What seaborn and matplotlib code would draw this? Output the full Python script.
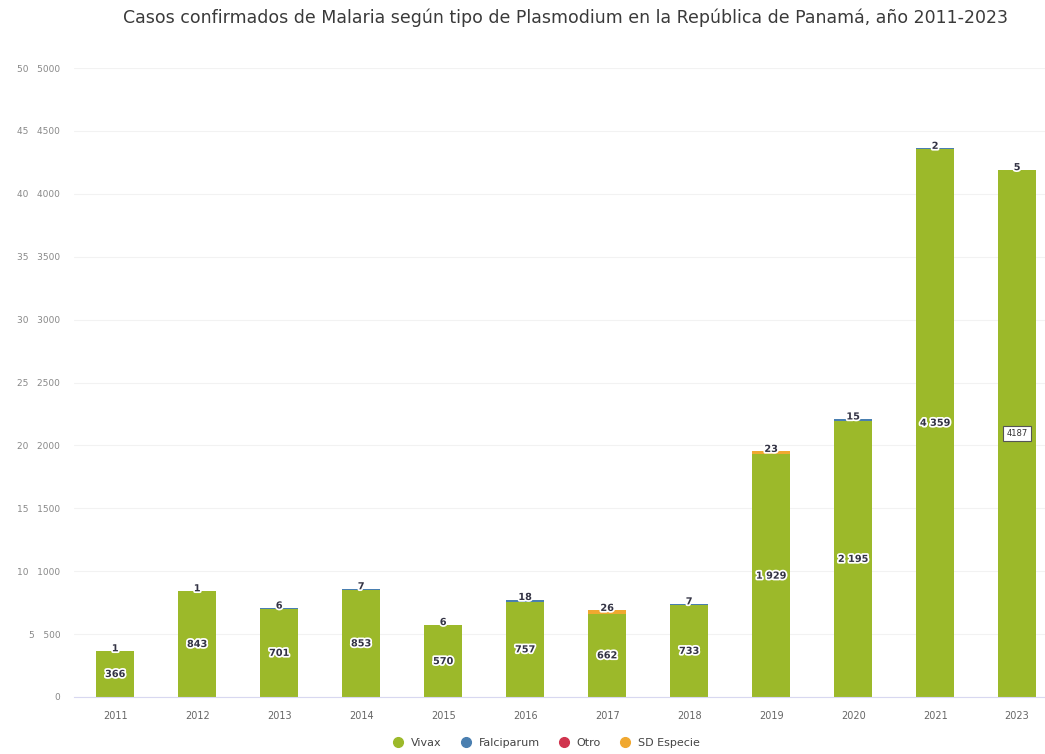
import numpy as np
import pandas as pd
import matplotlib
matplotlib.use("Agg")
import matplotlib.pyplot as plt
import matplotlib.patheffects as pe
from matplotlib.lines import Line2D
import seaborn as sns

# data
years = ["2011", "2012", "2013", "2014", "2015", "2016", "2017", "2018", "2019", "2020", "2021", "2023"]
vivax = [366, 843, 701, 853, 570, 757, 662, 733, 1929, 2195, 4359, 4187]
falciparum = [1, 1, 6, 7, 6, 18, 0, 7, 0, 15, 2, 5]
otro = [0, 0, 0, 0, 0, 0, 0, 0, 0, 0, 0, 0]
sd_especie = [0, 0, 0, 0, 0, 0, 26, 0, 23, 0, 0, 0]

series_names = ["Vivax", "Falciparum", "Otro", "SD Especie"]
colors = ["#9cb92a", "#4a7fb0", "#d0344e", "#f0a830"]

df = pd.DataFrame({"year": years, "Vivax": vivax, "Falciparum": falciparum,
                   "Otro": otro, "SD Especie": sd_especie})

sns.set_style("white")
plt.rcParams['font.family'] = ['DejaVu Sans']

fig = plt.figure(figsize=(10.45, 7.54), dpi=100)
ax = fig.add_axes([0.071, 0.0756, 0.929, 0.8342])

# stacked bars: draw cumulative sums from the top series down
cum = df[series_names].cumsum(axis=1)
for name, col in reversed(list(zip(series_names, colors))):
    sns.barplot(x=df["year"], y=cum[name], color=col, width=0.47,
                saturation=1, ax=ax, edgecolor=col, linewidth=0)

ax.set_xlim(-0.5, 11.34)
ax.set_ylim(0, 5000)
yt = np.arange(0, 5001, 500)
ax.set_yticks(yt)
ax.set_yticklabels(["0"] + [f"{v // 100}   {v}" for v in yt[1:]])
ax.tick_params(axis="y", length=0, labelsize=6.5, labelcolor="#888888", pad=10)
ax.tick_params(axis="x", length=0, labelsize=7, labelcolor="#666666", pad=10)
ax.set_xlabel("")
ax.set_ylabel("")
ax.yaxis.grid(True, color="#f2f2f2", linewidth=0.8)
ax.set_axisbelow(True)
for s in ["top", "right", "left"]:
    ax.spines[s].set_visible(False)
ax.spines["bottom"].set_color("#d8d8f0")
ax.spines["bottom"].set_linewidth(0.8)

halo = [pe.withStroke(linewidth=2.5, foreground="white")]

# vivax labels in the middle of the green segment
for i, v in enumerate(vivax):
    if years[i] == "2023":
        ax.text(i, v / 2, f"{v}", ha="center", va="center", fontsize=6,
                color="#333333",
                bbox=dict(boxstyle="square,pad=0.4", fc="white", ec="#555555", lw=0.8))
    else:
        txt = f"{v:,}".replace(",", " ")
        ax.text(i, v / 2, txt, ha="center", va="center", fontsize=7,
                fontweight="bold", color="#333344", path_effects=halo)

# small segment labels at the top of each bar
small = df[["Falciparum", "Otro", "SD Especie"]].sum(axis=1)
totals = cum["SD Especie"]
for i, (s, t) in enumerate(zip(small, totals)):
    ax.text(i, t + 20, f"{s}", ha="center", va="center", fontsize=7,
            fontweight="bold", color="#333344", path_effects=halo)

fig.text(0.541, 0.977, "Casos confirmados de Malaria según tipo de Plasmodium en la República de Panamá, año 2011-2023",
         ha="center", va="center", fontsize=12.5, color="#3a3a3a")

handles = [Line2D([0], [0], marker="o", linestyle="", markersize=7,
                  markerfacecolor=c, markeredgecolor=c, label=n)
           for n, c in zip(series_names, colors)]
fig.legend(handles=handles, loc="center", bbox_to_anchor=(0.52, 0.015), ncol=4,
           frameon=False, fontsize=8, handletextpad=0.15, columnspacing=1.2,
           labelcolor="#444444")

fig.savefig("out.png", dpi=100)
